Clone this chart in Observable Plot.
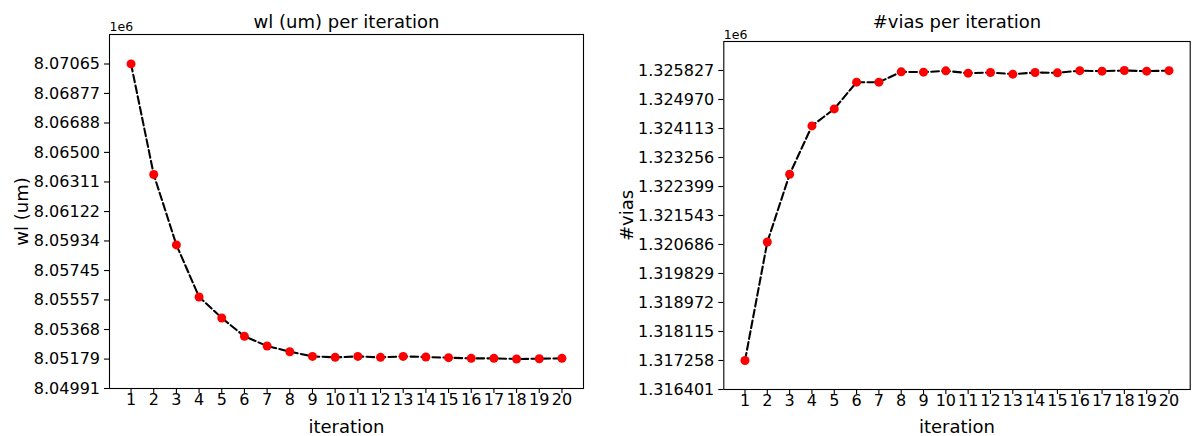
<!DOCTYPE html>
<html>
<head>
<meta charset="utf-8">
<script src="https://cdn.jsdelivr.net/npm/d3@7"></script>
<script src="https://cdn.jsdelivr.net/npm/@observablehq/plot@0.6"></script>
<style>
  html, body { margin: 0; padding: 0; background: #fff; }
  #wrap { width: 1200px; height: 436px; display: flex; flex-direction: row; }
  #wrap svg { display: block; }
</style>
</head>
<body>
<div id="wrap"></div>
<script>
const iterations = [1, 2, 3, 4, 5, 6, 7, 8, 9, 10, 11, 12, 13, 14, 15, 16, 17, 18, 19, 20];
const wl = [8070654, 8063589, 8059088, 8055760, 8054417, 8053244, 8052625, 8052262, 8051963, 8051900,
            8051963, 8051900, 8051963, 8051921, 8051879, 8051836, 8051836, 8051794, 8051814, 8051836];
const vias = [1317258, 1320758, 1322760, 1324190, 1324693, 1325482, 1325482, 1325788, 1325778, 1325817,
              1325748, 1325768, 1325719, 1325768, 1325758, 1325822, 1325807, 1325827, 1325807, 1325822];
const wlTickLabels = ["8.04991", "8.05179", "8.05368", "8.05557", "8.05745", "8.05934",
                      "8.06122", "8.06311", "8.06500", "8.06688", "8.06877", "8.07065"];
const viasTickLabels = ["1.316401", "1.317258", "1.318115", "1.318972", "1.319829", "1.320686",
                        "1.321543", "1.322399", "1.323256", "1.324113", "1.324970", "1.325827"];
const xTicks = iterations;

const FONT = "DejaVu Sans";
const TICK_FS = 16;
const LABEL_FS = 18;

function panel({values, tickLabels, decimals, title, ylabel, margins, titleDy, offsetDy, ylabelDx, xlabelDy}) {
  const ticks = tickLabels.map(s => parseFloat(s) * 1e6);
  const step = (ticks[ticks.length - 1] - ticks[0]) / (ticks.length - 1);
  const data = iterations.map((it, i) => ({it, v: values[i]}));
  return Plot.plot({
    width: 600,
    height: 436,
    marginLeft: margins[0],
    marginRight: margins[1],
    marginTop: margins[2],
    marginBottom: margins[3],
    style: {fontFamily: FONT, fontSize: TICK_FS + "px", color: "black", background: "white", overflow: "visible"},
    x: {type: "linear", domain: [0.05, 20.95]},
    y: {type: "linear", domain: [ticks[0], ticks[ticks.length - 1] + step]},
    marks: [
      Plot.axisX({ticks: xTicks, tickFormat: d => String(d), tickSize: 5, tickPadding: 0.5,
                  fontSize: TICK_FS, fontFamily: FONT, stroke: "black", strokeWidth: 1.1, fill: "black", label: null}),
      Plot.axisY({ticks: ticks, tickFormat: d => (d / 1e6).toFixed(decimals), tickSize: 5, tickPadding: 4.5,
                  fontSize: TICK_FS, fontFamily: FONT, stroke: "black", strokeWidth: 1.1, fill: "black", label: null}),
      Plot.line(data, {x: "it", y: "v", stroke: "black", strokeWidth: 2.08, strokeDasharray: "7.7,3.3", curve: "linear"}),
      Plot.dot(data, {x: "it", y: "v", r: 4.5, fill: "#ff0000", stroke: "none"}),
      Plot.frame({stroke: "black", strokeWidth: 1.1}),
      Plot.text([title], {frameAnchor: "top", dy: titleDy, lineAnchor: "bottom", textAnchor: "middle",
                          fontSize: LABEL_FS, fontFamily: FONT, fill: "black"}),
      Plot.text(["1e6"], {frameAnchor: "top-left", dy: offsetDy, lineAnchor: "bottom", textAnchor: "start",
                          fontSize: 12.5, fontFamily: FONT, fill: "black"}),
      Plot.text([ylabel], {frameAnchor: "left", dx: ylabelDx, rotate: -90, lineAnchor: "bottom", textAnchor: "middle",
                           fontSize: LABEL_FS, fontFamily: FONT, fill: "black"}),
      Plot.text(["iteration"], {frameAnchor: "bottom", dy: xlabelDy, lineAnchor: "bottom", textAnchor: "middle",
                                fontSize: LABEL_FS, fontFamily: FONT, fill: "black"})
    ]
  });
}

const left = panel({
  values: wl, tickLabels: wlTickLabels, decimals: 5,
  title: "wl (um) per iteration", ylabel: "wl (um)",
  margins: [109, 17, 34, 48], titleDy: -7, offsetDy: -4, ylabelDx: -82, xlabelDy: 44
});
const right = panel({
  values: vias, tickLabels: viasTickLabels, decimals: 6,
  title: "#vias per iteration", ylabel: "#vias",
  margins: [123.3, 10.3, 41, 47], titleDy: -14, offsetDy: -3, ylabelDx: -90.5, xlabelDy: 43
});
document.getElementById("wrap").append(left, right);
</script>
</body>
</html>
